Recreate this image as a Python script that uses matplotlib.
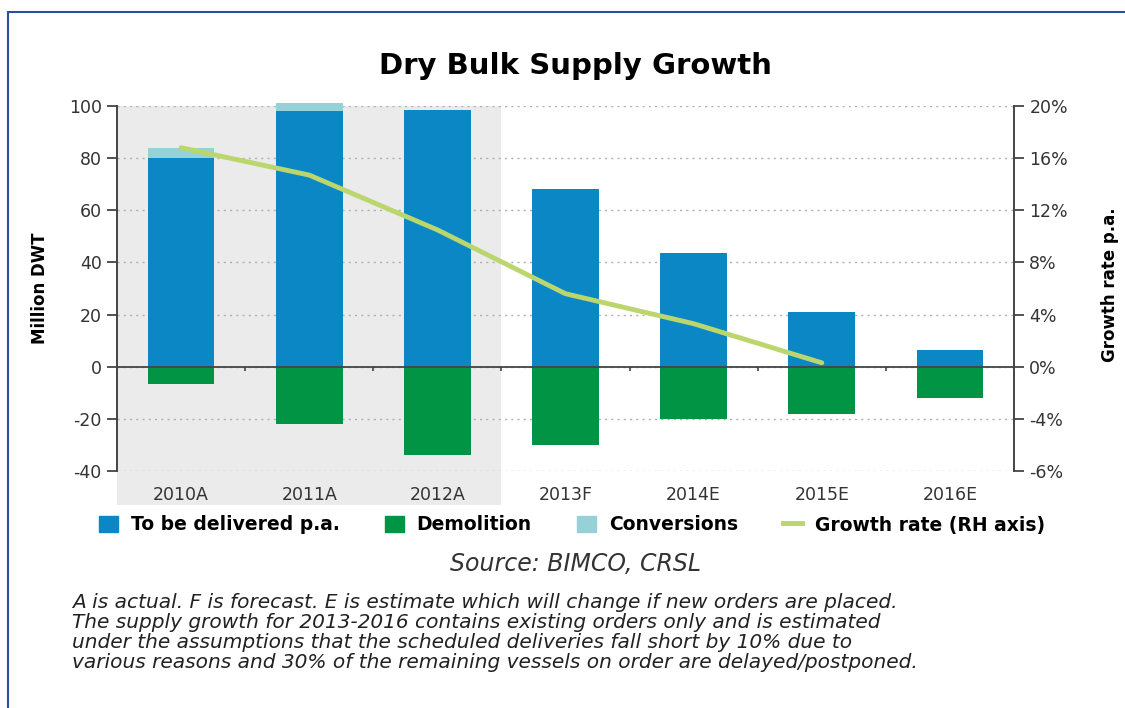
import numpy as np
import matplotlib
matplotlib.use("Agg")
import matplotlib.pyplot as plt
from matplotlib.patches import Rectangle
from matplotlib.lines import Line2D

plt.rcParams['axes.unicode_minus'] = False

#------------------------------------------------------------------------------
# data

years       = ['2010A', '2011A', '2012A', '2013F', '2014E', '2015E', '2016E']
delivered   = [80, 98, 98.5, 68, 43.5, 21, 6.5]
conversions = [4, 3, 0, 0, 0, 0, 0]
demolition  = [-6.5, -22, -34, -30, -20, -18, -12]
growth      = [16.8, 14.7, 10.5, 5.6, 3.3, 0.3]      # % p.a., 2010A-2015E

left_ticks   = [100, 80, 60, 40, 20, 0, -20, -40]
right_ticks  = [20, 16, 12, 8, 4, 0, -4, -8]
right_labels = ['20%', '16%', '12%', '8%', '4%', '0%', '-4%', '-6%']
n_actual = 3

legend_labels = ['To be delivered p.a.', 'Demolition', 'Conversions', 'Growth rate (RH axis)']
note_lines = [
    "A is actual. F is forecast. E is estimate which will change if new orders are placed.",
    "The supply growth for 2013-2016 contains existing orders only and is estimated",
    "under the assumptions that the scheduled deliveries fall short by 10% due to",
    "various reasons and 30% of the remaining vessels on order are delayed/postponed.",
]

#------------------------------------------------------------------------------
# colours

c_blue  = '#0a87c4'
c_green = '#009444'
c_conv  = '#95d1d6'
c_line  = '#bad66c'
c_shade = '#ebebeb'
c_axis  = '#444444'

fig = plt.figure(figsize=(11.25, 7.08), dpi=100)
ax = fig.add_axes([117/1125, 1-471/708, 897/1125, 365/708])

x = np.arange(len(years))
w = 0.52

# shaded band behind the actual years, reaching below the tick labels
ax.add_patch(Rectangle((-0.5, -0.093), n_actual, 1.093, transform=ax.get_xaxis_transform(),
                       facecolor=c_shade, edgecolor='none', clip_on=False, zorder=0))

ax.bar(x, delivered, w, color=c_blue, zorder=2, clip_on=False)
ax.bar(x, conversions, w, bottom=delivered, color=c_conv, zorder=2, clip_on=False)
ax.bar(x, demolition, w, color=c_green, zorder=2)

ax.set_xlim(-0.5, len(years)-0.5)
ax.set_ylim(-40, 100)
ax.set_yticks(left_ticks)
for t in left_ticks:
    ax.axhline(t, color='#b0b0b0', lw=1.0, ls=(0, (1.5, 3)), zorder=1)
ax.axhline(0, color=c_axis, lw=1.3, zorder=3)
ax.vlines(x[:-1]+0.5, -1.6, 0, color=c_axis, lw=1.2, zorder=3)

ax.set_xticks(x)
ax.set_xticklabels(years)
ax.tick_params(axis='x', length=0, pad=11, labelsize=12.5, colors='#333333')
ax.tick_params(axis='y', length=7, width=1.3, color=c_axis, labelsize=12.5,
               labelcolor='#333333', pad=4)
for s in ['top', 'bottom', 'right']:
    ax.spines[s].set_visible(False)
ax.spines['left'].set_color(c_axis)
ax.spines['left'].set_linewidth(1.4)
ax.set_ylabel('Million DWT', fontsize=12, fontweight='bold', labelpad=14)

ax2 = ax.twinx()
ax2.plot(x[:len(growth)], growth, color=c_line, lw=3.5, solid_capstyle='round', zorder=4)
ax2.set_ylim(-8, 20)
ax2.set_yticks(right_ticks)
ax2.set_yticklabels(right_labels)
ax2.tick_params(axis='y', length=7, width=1.3, color=c_axis, labelsize=12.5,
                labelcolor='#333333', pad=4)
for s in ['top', 'bottom', 'left']:
    ax2.spines[s].set_visible(False)
ax2.spines['right'].set_color(c_axis)
ax2.spines['right'].set_linewidth(1.4)

fig.text(1110/1125, 1-285/708, 'Growth rate p.a.', rotation=90, ha='center', va='center',
         fontsize=12, fontweight='bold')

fig.text(575/1125, 1-66/708, 'Dry Bulk Supply Growth', ha='center', va='center',
         fontsize=21, fontweight='bold')

handles = [Rectangle((0, 0), 1, 1, color=c_blue),
           Rectangle((0, 0), 1, 1, color=c_green),
           Rectangle((0, 0), 1, 1, color=c_conv),
           Line2D([], [], color=c_line, lw=3.5)]
fig.legend(handles, legend_labels, loc='center', bbox_to_anchor=(572/1125, 1-525/708), ncol=4,
           frameon=False, handlelength=1.0, handleheight=1.0,
           columnspacing=2.4, handletextpad=0.7, prop={'size': 13.5, 'weight': 'bold'})

fig.text(575/1125, 1-564/708, 'Source: BIMCO, CRSL', ha='center', va='center',
         fontsize=17, style='italic', color='#333333')

for i, line in enumerate(note_lines):
    fig.text(72/1125, 1-(603+19.7*i)/708, line, ha='left', va='center', fontsize=14.5,
             style='italic', color='#222222')

# blue frame
fig.patches.append(Rectangle((8/1125, -0.1), 1.2, 1-12/708+0.1, transform=fig.transFigure,
                             facecolor='none', edgecolor='#2b4ea0', lw=1.5))

fig.savefig('out.png', dpi=100)
